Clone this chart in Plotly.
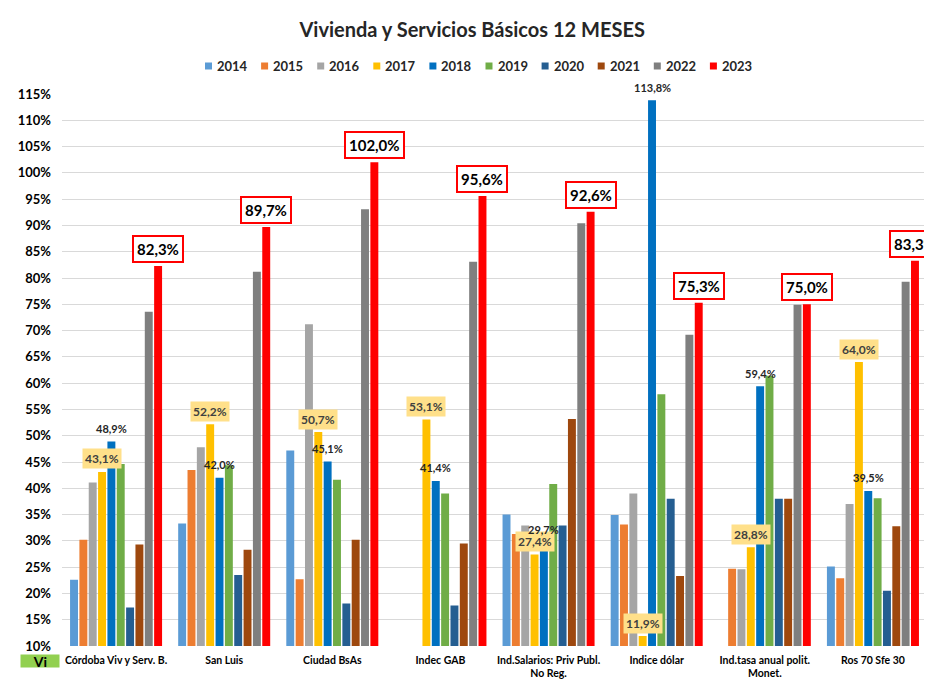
import plotly.graph_objects as go

CATEGORIES = [
    "Córdoba Viv y Serv. B.",
    "San Luis",
    "Ciudad BsAs",
    "Indec GAB",
    "Ind.Salarios: Priv Publ.<br>No Reg.",
    "Indice dólar",
    "Ind.tasa anual polit.<br>Monet.",
    "Ros 70 Sfe 30",
]
YEARS = ["2014", "2015", "2016", "2017", "2018", "2019", "2020", "2021", "2022", "2023"]

v2014 = [22.6, 33.3, 47.2, None, 35.0, 34.9, None, 25.1]
v2015 = [30.2, 43.5, 22.7, None, 31.3, 33.1, 24.7, 22.9]
v2016 = [41.1, 47.8, 71.2, None, 32.9, 39.0, 24.6, 37.0]
v2017 = [43.1, 52.2, 50.7, 53.1, 27.4, 11.9, 28.8, 64.0]
v2018 = [48.9, 42.0, 45.1, 41.4, 29.7, 113.8, 59.4, 39.5]
v2019 = [44.6, 44.4, 41.6, 39.0, 40.8, 57.9, 61.4, 38.1]
v2020 = [17.3, 23.5, 18.1, 17.7, 32.9, 38.0, 38.0, 20.5]
v2021 = [29.3, 28.3, 30.2, 29.5, 53.2, 23.3, 38.0, 32.8]
v2022 = [73.6, 81.2, 93.1, 83.1, 90.4, 69.2, 74.9, 79.3]
v2023 = [82.3, 89.7, 102.0, 95.6, 92.6, 75.3, 75.0, 83.3]

SERIES = [v2014, v2015, v2016, v2017, v2018, v2019, v2020, v2021, v2022, v2023]
COLORS = ["#5B9BD5", "#ED7D31", "#A5A5A5", "#FFC000", "#0070C0",
          "#70AD47", "#255E91", "#9E480E", "#7F7F7F", "#FF0000"]

FONT = "Lato"
BARGAP = 0.136
W, H = 932, 681
OFF = 8  # page body margin: the figure lands 8px right/down in the window
ML, MR, MT, MB = 54, 13, 86, 43
PW = W - ML - MR
PH = H - MT - MB


def px_x(px):
    # window pixel -> paper x
    return (px - OFF - ML) / PW


def px_y(py):
    # window pixel -> paper y
    return (H - MB - (py - OFF)) / PH


def fmt(v):
    return f"{v:.1f}%".replace(".", ",")


def slot_x(cat_idx, series_idx):
    span = 1 - BARGAP
    return cat_idx - span / 2 + (series_idx + 0.5) * span / len(SERIES)


fig = go.Figure()
for year, vals, color in zip(YEARS, SERIES, COLORS):
    fig.add_trace(go.Bar(name=year, x=CATEGORIES, y=vals, marker_color=color,
                         marker_line_width=0, showlegend=False))

annotations = []
# 2017 labels in yellow boxes
for i, v in enumerate(v2017):
    annotations.append(dict(
        x=slot_x(i, 3), y=v, xref="x", yref="y", text=fmt(v), showarrow=False,
        yanchor="middle", yshift=13, bgcolor="#FFE08A",
        borderpad=2, font=dict(family=FONT, size=12, color="#404040", weight=700)))
# 2018 plain labels
for i, v in enumerate(v2018):
    annotations.append(dict(
        x=slot_x(i, 4), y=v, xref="x", yref="y", text=fmt(v), showarrow=False,
        yanchor="middle", yshift=13,
        font=dict(family=FONT, size=11, color="#262626", weight=700)))
# 2023 labels in red boxes
for i, v in enumerate(v2023):
    annotations.append(dict(
        x=slot_x(i, 9), y=v, xref="x", yref="y", text=fmt(v), showarrow=False,
        yanchor="middle", yshift=17, bgcolor="white", bordercolor="#FF0000",
        borderwidth=2, borderpad=3,
        font=dict(family=FONT, size=15, color="black", weight=700)))

# stray "Vi" cell bottom-left
annotations.append(dict(
    xref="paper", yref="paper", x=px_x(40), y=px_y(661), xanchor="center",
    yanchor="middle", text="Vi", showarrow=False,
    bgcolor="#92D050", borderpad=0, width=38, height=12,
    font=dict(family=FONT, size=14, color="black", weight=700)))

# hand-built legend: small square + year, evenly spaced
shapes = []
for k, (year, color) in enumerate(zip(YEARS, COLORS)):
    sx = 205 + k * 56.1
    shapes.append(dict(type="rect", xref="paper", yref="paper",
                       x0=px_x(sx), x1=px_x(sx + 7), y0=px_y(69.5), y1=px_y(62.5),
                       fillcolor=color, line_width=0))
    annotations.append(dict(
        xref="paper", yref="paper", x=px_x(sx + 10), y=px_y(66), xanchor="left",
        yanchor="middle", text=year, showarrow=False,
        font=dict(family=FONT, size=13, color="#262626", weight=700)))

# chart frame (left and top edges visible)
shapes.append(dict(type="rect", xref="paper", yref="paper",
                   x0=px_x(7), x1=px_x(W + 20), y0=px_y(H + 20), y1=px_y(6),
                   line=dict(color="#D9D9D9", width=1), fillcolor="rgba(0,0,0,0)"))

fig.update_layout(
    width=W, height=H,
    margin=dict(l=ML, r=MR, t=MT, b=MB, autoexpand=False),
    paper_bgcolor="white", plot_bgcolor="white",
    barmode="group", bargap=BARGAP, bargroupgap=0.15,
    showlegend=False,
    title=dict(text="Vivienda y Servicios Básicos 12 MESES", x=0.498, xref="container",
               y=1 - 22 / H, yref="container", yanchor="middle",
               font=dict(family=FONT, size=20, color="#262626", weight=700)),
    annotations=annotations,
    shapes=shapes,
    font=dict(family=FONT),
)
fig.update_yaxes(range=[10, 115], dtick=5, ticksuffix="%", showgrid=True,
                 gridcolor="#D9D9D9", zeroline=False, showline=False,
                 ticklabelstandoff=10, automargin=False,
                 tickfont=dict(family=FONT, size=13, color="black", weight=700))
fig.update_xaxes(range=[-0.5, len(CATEGORIES) - 0.5], showgrid=False, showline=False,
                 ticks="", ticklabelstandoff=6, automargin=False,
                 tickfont=dict(family=FONT, size=10.5, color="black", weight=700))

fig.write_html("out.html")
